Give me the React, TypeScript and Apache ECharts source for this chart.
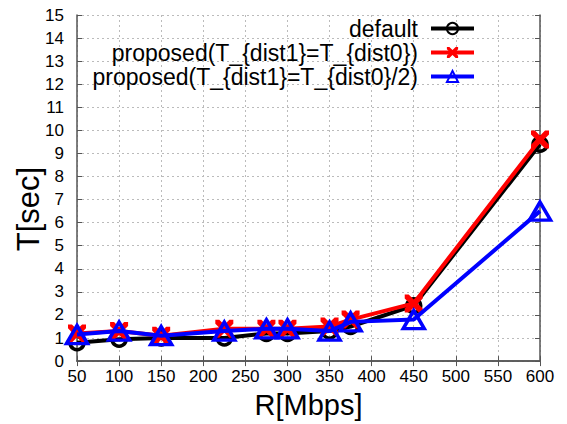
import React, { useEffect, useRef } from "react";
import * as echarts from "echarts";

const rates = [50, 100, 150, 225, 275, 300, 350, 375, 450, 600];
const defaultT = [0.8, 0.95, 1.0, 1.0, 1.2, 1.2, 1.3, 1.5, 2.4, 9.4];
const proposedEq = [1.2, 1.3, 1.1, 1.4, 1.4, 1.4, 1.5, 1.8, 2.5, 9.6];
const proposedHalf = [1.15, 1.3, 1.1, 1.3, 1.4, 1.4, 1.3, 1.7, 1.8, 6.5];
const seriesNames = [
  "default",
  "proposed(T_{dist1}=T_{dist0})",
  "proposed(T_{dist1}=T_{dist0}/2)",
];
const yTitle = "T[sec]";
const xTitle = "R[Mbps]";

const crossPath =
  "path://M0,0 L2.2,0 L5,2.8 L7.8,0 L10,0 L10,2.2 L7.2,5 L10,7.8 L10,10 L7.8,10 L5,7.2 L2.2,10 L0,10 L0,7.8 L2.8,5 L0,2.2 Z";

export default function App() {
  const ref = useRef<HTMLDivElement>(null);
  useEffect(() => {
    if (!ref.current) return;
    const chart = echarts.init(ref.current, null, { renderer: "svg" });
    const font = "Liberation Sans, Arial, sans-serif";
    const pair = (vals: number[]) => rates.map((r, i) => [r, vals[i]]);
    const axisLine = { show: true, lineStyle: { color: "#555", width: 1.5 } };
    const split = { show: true, lineStyle: { color: "#bbb", type: [2, 3] as any, width: 1 } };
    const tick = { show: true, inside: true, length: 5, lineStyle: { color: "#555" } };
    chart.setOption({
      animation: false,
      backgroundColor: "#fff",
      grid: { left: 77, right: 27, top: 15, bottom: 55, show: false },
      graphic: [
        {
          type: "text",
          x: 28,
          y: 209,
          rotation: Math.PI / 2,
          style: {
            text: yTitle,
            fontFamily: font,
            fontSize: 31,
            fill: "#000",
            align: "center",
            verticalAlign: "middle",
          },
        },
      ],
      legend: {
        right: 86,
        top: 12,
        orient: "vertical",
        align: "right",
        itemWidth: 43,
        itemHeight: 14,
        itemGap: 1,
        data: seriesNames,
        lineStyle: { width: 4 },
        textStyle: { fontFamily: font, fontSize: 23, color: "#000", padding: [0, 8, 0, 0] },
      },
      xAxis: [
        {
          type: "value",
          min: 50,
          max: 600,
          interval: 50,
          name: xTitle,
          nameLocation: "middle",
          nameGap: 22,
          nameTextStyle: { fontFamily: font, fontSize: 29, color: "#000", verticalAlign: "top" },
          axisLine,
          axisTick: tick,
          axisLabel: { fontFamily: font, fontSize: 17, color: "#000", margin: 7 },
          splitLine: split,
        },
        {
          type: "value",
          position: "top",
          min: 50,
          max: 600,
          interval: 50,
          axisLine,
          axisTick: tick,
          axisLabel: { show: false },
          splitLine: { show: false },
        },
      ],
      yAxis: [
        {
          type: "value",
          min: 0,
          max: 15,
          interval: 1,
          axisLine,
          axisTick: tick,
          axisLabel: { fontFamily: font, fontSize: 17, color: "#000", margin: 13 },
          splitLine: split,
        },
        {
          type: "value",
          position: "right",
          min: 0,
          max: 15,
          interval: 1,
          axisLine,
          axisTick: tick,
          axisLabel: { show: false },
          splitLine: { show: false },
        },
      ],
      series: [
        {
          name: seriesNames[0],
          type: "line",
          data: pair(defaultT),
          symbol: "circle",
          symbolSize: 14,
          lineStyle: { color: "#000", width: 4 },
          itemStyle: { color: "rgba(0,0,0,0)", borderColor: "#000", borderWidth: 3.5 },
          z: 2,
        },
        {
          name: seriesNames[1],
          type: "line",
          data: pair(proposedEq),
          symbol: crossPath,
          symbolSize: 18,
          lineStyle: { color: "#f00", width: 4 },
          itemStyle: { color: "#f00", borderWidth: 0 },
          z: 3,
        },
        {
          name: seriesNames[2],
          type: "line",
          data: pair(proposedHalf),
          symbol: "triangle",
          symbolSize: [21, 18],
          lineStyle: { color: "#00f", width: 4 },
          itemStyle: { color: "rgba(0,0,0,0)", borderColor: "#00f", borderWidth: 3.5 },
          z: 4,
        },
      ],
    });
    return () => chart.dispose();
  }, []);
  return (
    <div
      ref={ref}
      style={{ position: "fixed", left: 0, top: 0, width: 567, height: 424 }}
    />
  );
}
